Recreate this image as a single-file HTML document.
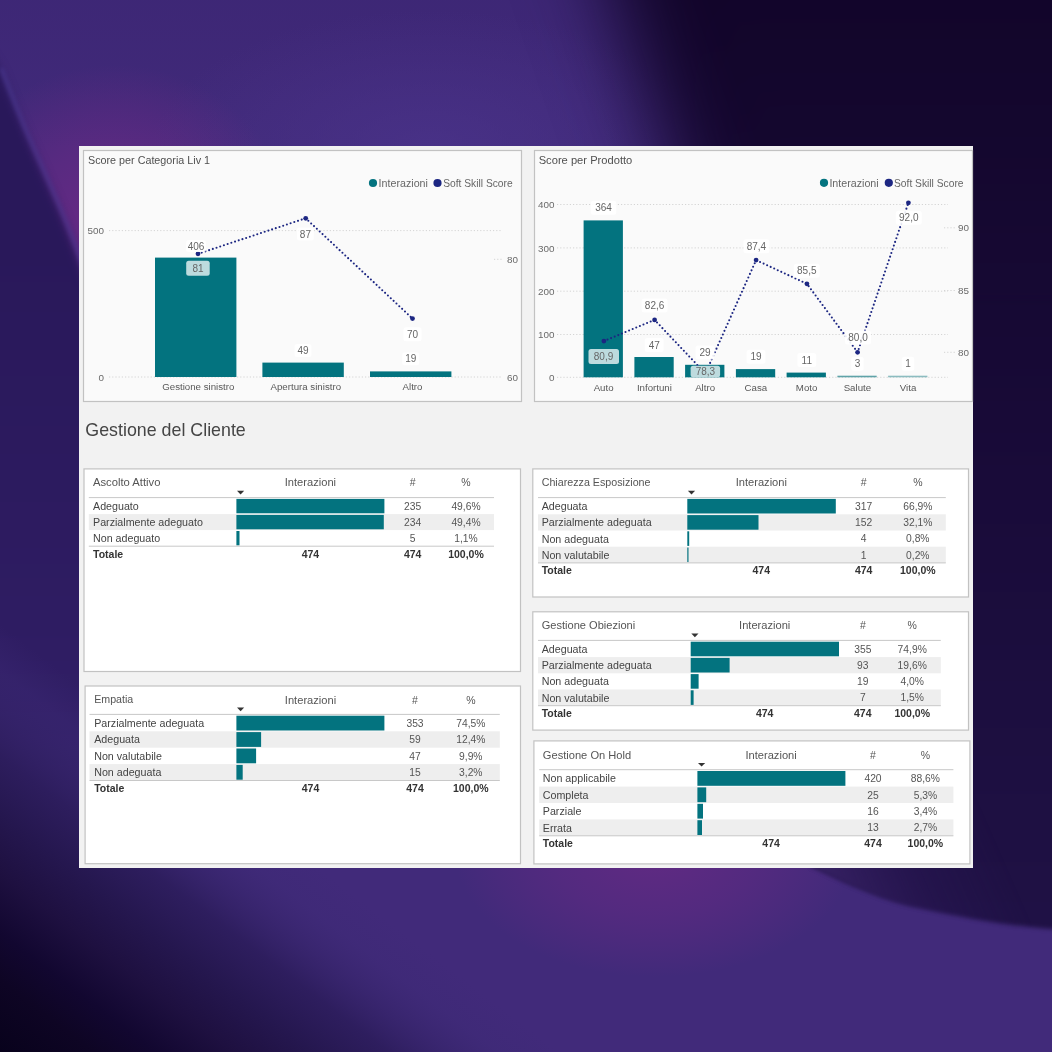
<!DOCTYPE html>
<html><head><meta charset="utf-8"><title>Dashboard</title>
<style>
html,body{margin:0;padding:0;}
body{width:1052px;height:1052px;overflow:hidden;position:relative;font-family:"Liberation Sans", sans-serif;}
#bg{position:absolute;left:0;top:0;width:1052px;height:1052px;overflow:hidden;}
svg{position:absolute;left:0;top:0;}
</style></head><body>
<div id="bg"><svg style="position:absolute;left:-150px;top:-150px" width="1352" height="1352" viewBox="-150 -150 1352 1352">
<defs>
<filter id="b40" color-interpolation-filters="sRGB" filterUnits="userSpaceOnUse" x="-150" y="-150" width="1352" height="1352"><feGaussianBlur stdDeviation="40"/></filter>
<filter id="b30" color-interpolation-filters="sRGB" filterUnits="userSpaceOnUse" x="-150" y="-150" width="1352" height="1352"><feGaussianBlur stdDeviation="30"/></filter>
<filter id="b15" color-interpolation-filters="sRGB" filterUnits="userSpaceOnUse" x="-150" y="-150" width="1352" height="1352"><feGaussianBlur stdDeviation="15"/></filter>
<filter id="b8" color-interpolation-filters="sRGB" filterUnits="userSpaceOnUse" x="-150" y="-150" width="1352" height="1352"><feGaussianBlur stdDeviation="8"/></filter>
<filter id="b2" color-interpolation-filters="sRGB" filterUnits="userSpaceOnUse" x="-150" y="-150" width="1352" height="1352"><feGaussianBlur stdDeviation="2"/></filter>
<filter id="b5" color-interpolation-filters="sRGB" filterUnits="userSpaceOnUse" x="-150" y="-150" width="1352" height="1352"><feGaussianBlur stdDeviation="5"/></filter>
<filter id="b4" color-interpolation-filters="sRGB" filterUnits="userSpaceOnUse" x="-150" y="-150" width="1352" height="1352"><feGaussianBlur stdDeviation="4"/></filter>
<linearGradient id="dk" gradientUnits="userSpaceOnUse" x1="0" y1="0" x2="0" y2="950">
<stop offset="0" stop-color="#12052a"/><stop offset="0.5" stop-color="#190b39"/><stop offset="1" stop-color="#201246"/>
</linearGradient>
<linearGradient id="ls" gradientUnits="userSpaceOnUse" x1="0" y1="250" x2="0" y2="880">
<stop offset="0" stop-color="#29185a"/><stop offset="0.6" stop-color="#2e1c62"/><stop offset="1" stop-color="#36236c"/>
</linearGradient>
<radialGradient id="mg1" cx="0.5" cy="0.5" r="0.5"><stop offset="0" stop-color="#6e2a86" stop-opacity="0.95"/><stop offset="0.5" stop-color="#6a2a86" stop-opacity="0.6"/><stop offset="1" stop-color="#6e2a86" stop-opacity="0"/></radialGradient>
<linearGradient id="cn" gradientUnits="userSpaceOnUse" x1="0" y1="1052" x2="206.4" y2="781.7"><stop offset="0" stop-color="#08021c"/><stop offset="0.167" stop-color="#0e0524"/><stop offset="0.278" stop-color="#120730"/><stop offset="0.417" stop-color="#1e1040"/><stop offset="0.556" stop-color="#25174f"/><stop offset="0.694" stop-color="#2d1d5d" stop-opacity="0.95"/><stop offset="0.89" stop-color="#3c2975" stop-opacity="0.4"/><stop offset="1" stop-color="#3c2975" stop-opacity="0"/></linearGradient>
<linearGradient id="tl" gradientUnits="userSpaceOnUse" x1="0" y1="0" x2="0" y2="150">
<stop offset="0" stop-color="#3b2573"/><stop offset="1" stop-color="#3b2573" stop-opacity="0"/>
</linearGradient>
<linearGradient id="wv" gradientUnits="userSpaceOnUse" x1="830" y1="900" x2="990" y2="830"><stop offset="0" stop-color="#3a2468" stop-opacity="0.9"/><stop offset="0.55" stop-color="#2e1a5c" stop-opacity="0.35"/><stop offset="1" stop-color="#2a1a58" stop-opacity="0"/></linearGradient>
<radialGradient id="lt" cx="0.5" cy="0.5" r="0.5"><stop offset="0" stop-color="#4a338a" stop-opacity="0.8"/><stop offset="1" stop-color="#4a338a" stop-opacity="0"/></radialGradient>
</defs>
<rect x="-150" y="-150" width="1352" height="1352" fill="#412a7a"/>
<rect x="-150" y="-150" width="800" height="300" fill="url(#tl)" opacity="0.6"/>
<ellipse cx="430" cy="150" rx="280" ry="140" fill="url(#lt)"/>
<ellipse cx="115" cy="225" rx="175" ry="160" fill="url(#mg1)" opacity="0.95"/>
<ellipse cx="655" cy="852" rx="200" ry="125" fill="url(#mg1)" opacity="0.75"/>
<path d="M-100,30 L-10,55 L0,70 C12,100 22,125 30,143 C42,170 52,192 61,213 C68,230 74,245 79,259 C85,275 90,290 95,305 L95,880 L-100,880 Z" fill="url(#ls)" filter="url(#b5)"/>
<path d="M1,68 C13,99 23,124 31,142 C43,169 53,191 62,212 C69,229 75,244 80,258 C86,274 91,289 96,304" fill="none" stroke="#5848aa" stroke-width="3" opacity="0.55" filter="url(#b2)"/>
<path d="M527,-250 L1300,-250 L1300,800 L900,800 L716,300 Z" fill="url(#dk)" filter="url(#b40)"/>
<path d="M900,300 L1300,300 L1300,931 L1052,929 C1040,928 1025,926.5 1013,925 C980,921 940,912 909,905.6 C870,895 840,880 811,866 Z" fill="url(#dk)" filter="url(#b2)"/>
<path d="M900,300 L1300,300 L1300,931 L1052,929 C1040,928 1025,926.5 1013,925 C980,921 940,912 909,905.6 C870,895 840,880 811,866 Z" fill="url(#wv)" filter="url(#b2)"/>
<rect x="-150" y="-150" width="1352" height="1352" fill="url(#cn)"/>
</svg>
</div>
<svg width="1052" height="1052" viewBox="0 0 1052 1052" style="will-change:transform" font-family='"Liberation Sans", sans-serif'>
<rect x="79.0" y="146.0" width="894.0" height="722.0" fill="#f2f2f2"/>
<rect x="83.5" y="150.5" width="438.0" height="251.0" fill="#fafafa" stroke="#c2c2c2" stroke-width="1.2"/>
<text x="88.0" y="163.7" font-size="10.9" fill="#505050" text-anchor="start" font-weight="normal" textLength="122" lengthAdjust="spacingAndGlyphs">Score per Categoria Liv 1</text>
<circle cx="373" cy="183" r="4.1" fill="#03737f"/>
<text x="378.6" y="186.8" font-size="10.5" fill="#666" text-anchor="start" font-weight="normal" textLength="49.3" lengthAdjust="spacingAndGlyphs">Interazioni</text>
<circle cx="437.5" cy="183" r="4.1" fill="#1c2682"/>
<text x="443.2" y="186.8" font-size="10.5" fill="#666" text-anchor="start" font-weight="normal" textLength="69.5" lengthAdjust="spacingAndGlyphs">Soft Skill Score</text>
<text x="104.0" y="234.2" font-size="9.9" fill="#6a6a6a" text-anchor="end" font-weight="normal">500</text>
<line x1="109.0" y1="230.6" x2="502.0" y2="230.6" stroke="#d4d4d4" stroke-width="1" stroke-dasharray="1.2 2"/>
<text x="104.0" y="380.6" font-size="9.9" fill="#6a6a6a" text-anchor="end" font-weight="normal">0</text>
<line x1="109.0" y1="377.0" x2="502.0" y2="377.0" stroke="#d4d4d4" stroke-width="1" stroke-dasharray="1.2 2"/>
<text x="507.0" y="262.9" font-size="9.9" fill="#6a6a6a" text-anchor="start" font-weight="normal">80</text>
<text x="507.0" y="380.6" font-size="9.9" fill="#6a6a6a" text-anchor="start" font-weight="normal">60</text>
<line x1="494.0" y1="259.3" x2="503.0" y2="259.3" stroke="#d4d4d4" stroke-width="1" stroke-dasharray="1.2 2"/>
<rect x="155.0" y="257.6" width="81.4" height="119.4" fill="#03737f"/>
<rect x="262.4" y="362.6" width="81.4" height="14.4" fill="#03737f"/>
<rect x="370.0" y="371.4" width="81.4" height="5.6" fill="#03737f"/>
<polyline points="198,253.8 305.7,218.3 412.5,318.6" fill="none" stroke="#1c2682" stroke-width="2.1" stroke-dasharray="0 3.9" stroke-linecap="round"/>
<circle cx="198" cy="253.8" r="2.4" fill="#1c2682"/>
<circle cx="305.7" cy="218.3" r="2.4" fill="#1c2682"/>
<circle cx="412.5" cy="318.6" r="2.4" fill="#1c2682"/>
<rect x="186.0" y="240.0" width="20.0" height="12.0" rx="2.5" fill="rgba(255,255,255,0.85)"/>
<text x="196.0" y="249.6" font-size="10" fill="#666" text-anchor="middle" font-weight="normal">406</text>
<rect x="186.2" y="260.8" width="23.5" height="15.0" rx="2.5" fill="#bddbde"/>
<text x="198.0" y="271.9" font-size="10" fill="#666" text-anchor="middle" font-weight="normal">81</text>
<rect x="296.9" y="227.5" width="17.0" height="13.0" rx="2.5" fill="rgba(255,255,255,0.85)"/>
<text x="305.4" y="237.6" font-size="10" fill="#666" text-anchor="middle" font-weight="normal">87</text>
<rect x="403.5" y="327.2" width="18.0" height="14.0" rx="2.5" fill="#ffffff"/>
<text x="412.5" y="337.8" font-size="10" fill="#666" text-anchor="middle" font-weight="normal">70</text>
<rect x="294.5" y="344.0" width="17.0" height="13.0" rx="2.5" fill="rgba(255,255,255,0.85)"/>
<text x="303.0" y="354.1" font-size="10" fill="#666" text-anchor="middle" font-weight="normal">49</text>
<rect x="402.2" y="352.2" width="17.0" height="13.0" rx="2.5" fill="rgba(255,255,255,0.85)"/>
<text x="410.7" y="362.3" font-size="10" fill="#666" text-anchor="middle" font-weight="normal">19</text>
<text x="198.3" y="390.2" font-size="9.7" fill="#585858" text-anchor="middle" font-weight="normal">Gestione sinistro</text>
<text x="305.8" y="390.2" font-size="9.7" fill="#585858" text-anchor="middle" font-weight="normal">Apertura sinistro</text>
<text x="412.5" y="390.2" font-size="9.7" fill="#585858" text-anchor="middle" font-weight="normal">Altro</text>
<rect x="534.5" y="150.5" width="438.0" height="251.0" fill="#fafafa" stroke="#c2c2c2" stroke-width="1.2"/>
<text x="538.7" y="163.7" font-size="10.9" fill="#505050" text-anchor="start" font-weight="normal" textLength="93.6" lengthAdjust="spacingAndGlyphs">Score per Prodotto</text>
<circle cx="824" cy="182.8" r="4.1" fill="#03737f"/>
<text x="829.4" y="186.6" font-size="10.5" fill="#666" text-anchor="start" font-weight="normal" textLength="49.3" lengthAdjust="spacingAndGlyphs">Interazioni</text>
<circle cx="888.8" cy="182.8" r="4.1" fill="#1c2682"/>
<text x="894.0" y="186.6" font-size="10.5" fill="#666" text-anchor="start" font-weight="normal" textLength="69.5" lengthAdjust="spacingAndGlyphs">Soft Skill Score</text>
<text x="554.5" y="208.1" font-size="9.9" fill="#6a6a6a" text-anchor="end" font-weight="normal">400</text>
<line x1="557.0" y1="204.5" x2="948.0" y2="204.5" stroke="#d4d4d4" stroke-width="1" stroke-dasharray="1.2 2"/>
<text x="554.5" y="251.5" font-size="9.9" fill="#6a6a6a" text-anchor="end" font-weight="normal">300</text>
<line x1="557.0" y1="247.9" x2="948.0" y2="247.9" stroke="#d4d4d4" stroke-width="1" stroke-dasharray="1.2 2"/>
<text x="554.5" y="294.8" font-size="9.9" fill="#6a6a6a" text-anchor="end" font-weight="normal">200</text>
<line x1="557.0" y1="291.2" x2="948.0" y2="291.2" stroke="#d4d4d4" stroke-width="1" stroke-dasharray="1.2 2"/>
<text x="554.5" y="338.1" font-size="9.9" fill="#6a6a6a" text-anchor="end" font-weight="normal">100</text>
<line x1="557.0" y1="334.5" x2="948.0" y2="334.5" stroke="#d4d4d4" stroke-width="1" stroke-dasharray="1.2 2"/>
<text x="554.5" y="380.9" font-size="9.9" fill="#6a6a6a" text-anchor="end" font-weight="normal">0</text>
<line x1="557.0" y1="377.3" x2="948.0" y2="377.3" stroke="#d4d4d4" stroke-width="1" stroke-dasharray="1.2 2"/>
<text x="957.9" y="231.4" font-size="9.9" fill="#6a6a6a" text-anchor="start" font-weight="normal">90</text>
<line x1="944.0" y1="227.8" x2="955.0" y2="227.8" stroke="#d4d4d4" stroke-width="1" stroke-dasharray="1.2 2"/>
<text x="957.9" y="294.1" font-size="9.9" fill="#6a6a6a" text-anchor="start" font-weight="normal">85</text>
<line x1="944.0" y1="290.5" x2="955.0" y2="290.5" stroke="#d4d4d4" stroke-width="1" stroke-dasharray="1.2 2"/>
<text x="957.9" y="355.9" font-size="9.9" fill="#6a6a6a" text-anchor="start" font-weight="normal">80</text>
<line x1="944.0" y1="352.3" x2="955.0" y2="352.3" stroke="#d4d4d4" stroke-width="1" stroke-dasharray="1.2 2"/>
<rect x="583.6" y="220.4" width="39.3" height="156.9" fill="#03737f"/>
<rect x="634.4" y="357.0" width="39.3" height="20.3" fill="#03737f"/>
<rect x="685.1" y="364.8" width="39.3" height="12.5" fill="#03737f"/>
<rect x="735.9" y="369.1" width="39.3" height="8.2" fill="#03737f"/>
<rect x="786.6" y="372.6" width="39.3" height="4.7" fill="#03737f"/>
<rect x="837.4" y="375.7" width="39.3" height="1.6" fill="#5fa3a8"/>
<rect x="888.1" y="375.7" width="39.3" height="1.6" fill="#8cbcc0"/>
<polyline points="603.9,341.1 654.6,319.9 705.4,373.5 756.1,260.1 806.9,283.8 857.6,352.3 908.4,202.8" fill="none" stroke="#1c2682" stroke-width="2.1" stroke-dasharray="0 3.9" stroke-linecap="round"/>
<circle cx="603.9" cy="341.1" r="2.4" fill="#1c2682"/>
<circle cx="654.6" cy="319.9" r="2.4" fill="#1c2682"/>
<circle cx="705.4" cy="373.5" r="2.4" fill="#1c2682"/>
<circle cx="756.1" cy="260.1" r="2.4" fill="#1c2682"/>
<circle cx="806.9" cy="283.8" r="2.4" fill="#1c2682"/>
<circle cx="857.6" cy="352.3" r="2.4" fill="#1c2682"/>
<circle cx="908.4" cy="202.8" r="2.4" fill="#1c2682"/>
<rect x="590.8" y="200.7" width="25.5" height="14.0" rx="2.5" fill="rgba(255,255,255,0.9)"/>
<text x="603.5" y="211.3" font-size="10" fill="#666" text-anchor="middle" font-weight="normal">364</text>
<rect x="644.7" y="338.0" width="19.0" height="14.0" rx="2.5" fill="rgba(255,255,255,0.9)"/>
<text x="654.2" y="348.6" font-size="10" fill="#666" text-anchor="middle" font-weight="normal">47</text>
<rect x="695.5" y="345.6" width="19.0" height="14.0" rx="2.5" fill="rgba(255,255,255,0.9)"/>
<text x="705.0" y="356.2" font-size="10" fill="#666" text-anchor="middle" font-weight="normal">29</text>
<rect x="746.5" y="349.7" width="19.0" height="14.0" rx="2.5" fill="rgba(255,255,255,0.9)"/>
<text x="756.0" y="360.3" font-size="10" fill="#666" text-anchor="middle" font-weight="normal">19</text>
<rect x="797.3" y="353.0" width="19.0" height="14.0" rx="2.5" fill="rgba(255,255,255,0.9)"/>
<text x="806.8" y="363.6" font-size="10" fill="#666" text-anchor="middle" font-weight="normal">11</text>
<rect x="851.2" y="356.7" width="12.5" height="14.0" rx="2.5" fill="rgba(255,255,255,0.9)"/>
<text x="857.5" y="367.3" font-size="10" fill="#666" text-anchor="middle" font-weight="normal">3</text>
<rect x="901.8" y="356.7" width="12.5" height="14.0" rx="2.5" fill="rgba(255,255,255,0.9)"/>
<text x="908.0" y="367.3" font-size="10" fill="#666" text-anchor="middle" font-weight="normal">1</text>
<rect x="641.6" y="298.6" width="26.0" height="14.0" rx="2.5" fill="rgba(255,255,255,0.9)"/>
<text x="654.6" y="309.2" font-size="10" fill="#666" text-anchor="middle" font-weight="normal">82,6</text>
<rect x="743.4" y="239.2" width="26.0" height="14.0" rx="2.5" fill="rgba(255,255,255,0.9)"/>
<text x="756.4" y="249.8" font-size="10" fill="#666" text-anchor="middle" font-weight="normal">87,4</text>
<rect x="793.8" y="263.7" width="26.0" height="14.0" rx="2.5" fill="rgba(255,255,255,0.9)"/>
<text x="806.8" y="274.3" font-size="10" fill="#666" text-anchor="middle" font-weight="normal">85,5</text>
<rect x="845.0" y="330.5" width="26.0" height="14.0" rx="2.5" fill="rgba(255,255,255,0.9)"/>
<text x="858.0" y="341.1" font-size="10" fill="#666" text-anchor="middle" font-weight="normal">80,0</text>
<rect x="895.8" y="210.7" width="26.0" height="14.0" rx="2.5" fill="rgba(255,255,255,0.9)"/>
<text x="908.8" y="221.3" font-size="10" fill="#666" text-anchor="middle" font-weight="normal">92,0</text>
<rect x="588.5" y="348.9" width="30.5" height="15.0" rx="2.5" fill="#bddbde"/>
<text x="603.5" y="360.4" font-size="10" fill="#666" text-anchor="middle" font-weight="normal">80,9</text>
<rect x="690.6" y="365.7" width="29.5" height="11.6" rx="2.5" fill="#bddbde"/>
<text x="705.4" y="375.1" font-size="10" fill="#666" text-anchor="middle" font-weight="normal">78,3</text>
<text x="603.6" y="390.5" font-size="9.7" fill="#585858" text-anchor="middle" font-weight="normal">Auto</text>
<text x="654.4" y="390.5" font-size="9.7" fill="#585858" text-anchor="middle" font-weight="normal">Infortuni</text>
<text x="705.1" y="390.5" font-size="9.7" fill="#585858" text-anchor="middle" font-weight="normal">Altro</text>
<text x="755.9" y="390.5" font-size="9.7" fill="#585858" text-anchor="middle" font-weight="normal">Casa</text>
<text x="806.6" y="390.5" font-size="9.7" fill="#585858" text-anchor="middle" font-weight="normal">Moto</text>
<text x="857.4" y="390.5" font-size="9.7" fill="#585858" text-anchor="middle" font-weight="normal">Salute</text>
<text x="908.1" y="390.5" font-size="9.7" fill="#585858" text-anchor="middle" font-weight="normal">Vita</text>
<text x="85.3" y="435.6" font-size="17.8" fill="#454545" text-anchor="start" font-weight="normal" textLength="160.5" lengthAdjust="spacingAndGlyphs">Gestione del Cliente</text>
<rect x="84.0" y="468.9" width="436.5" height="202.6" fill="#ffffff" stroke="#c2c2c2" stroke-width="1.2"/>
<text x="93.0" y="486.0" font-size="11" fill="#555" text-anchor="start" font-weight="normal" textLength="67.5" lengthAdjust="spacingAndGlyphs">Ascolto Attivo</text>
<text x="310.4" y="486.3" font-size="10.7" fill="#555" text-anchor="middle" font-weight="normal" textLength="51.3" lengthAdjust="spacingAndGlyphs">Interazioni</text>
<text x="412.7" y="486.2" font-size="10.5" fill="#555" text-anchor="middle" font-weight="normal">#</text>
<text x="466.0" y="486.2" font-size="10.5" fill="#555" text-anchor="middle" font-weight="normal">%</text>
<path d="M237.0,490.8 L244.2,490.8 L240.6,494.5 Z" fill="#333"/>
<line x1="88.8" y1="497.6" x2="494.0" y2="497.6" stroke="#c8c8c8" stroke-width="1"/>
<rect x="236.4" y="498.9" width="148.0" height="14.4" fill="#03737f"/>
<text x="93.0" y="510.0" font-size="10.7" fill="#444" text-anchor="start" font-weight="normal">Adeguato</text>
<text x="412.7" y="509.8" font-size="10.3" fill="#555" text-anchor="middle" font-weight="normal">235</text>
<text x="466.0" y="509.8" font-size="10.3" fill="#555" text-anchor="middle" font-weight="normal">49,6%</text>
<rect x="88.8" y="514.1" width="405.2" height="16.0" fill="#eeeeee"/>
<rect x="236.4" y="514.9" width="147.4" height="14.4" fill="#03737f"/>
<text x="93.0" y="526.0" font-size="10.7" fill="#444" text-anchor="start" font-weight="normal">Parzialmente adeguato</text>
<text x="412.7" y="525.9" font-size="10.3" fill="#555" text-anchor="middle" font-weight="normal">234</text>
<text x="466.0" y="525.9" font-size="10.3" fill="#555" text-anchor="middle" font-weight="normal">49,4%</text>
<rect x="236.4" y="531.0" width="3.1" height="14.4" fill="#03737f"/>
<text x="93.0" y="542.0" font-size="10.7" fill="#444" text-anchor="start" font-weight="normal">Non adeguato</text>
<text x="412.7" y="541.9" font-size="10.3" fill="#555" text-anchor="middle" font-weight="normal">5</text>
<text x="466.0" y="541.9" font-size="10.3" fill="#555" text-anchor="middle" font-weight="normal">1,1%</text>
<line x1="88.8" y1="546.2" x2="494.0" y2="546.2" stroke="#c8c8c8" stroke-width="1"/>
<text x="93.0" y="558.3" font-size="10.5" fill="#333" text-anchor="start" font-weight="bold">Totale</text>
<text x="310.4" y="558.3" font-size="10.5" fill="#333" text-anchor="middle" font-weight="bold">474</text>
<text x="412.7" y="558.3" font-size="10.5" fill="#333" text-anchor="middle" font-weight="bold">474</text>
<text x="466.0" y="558.3" font-size="10.5" fill="#333" text-anchor="middle" font-weight="bold">100,0%</text>
<rect x="85.1" y="686.0" width="435.4" height="177.7" fill="#ffffff" stroke="#c2c2c2" stroke-width="1.2"/>
<text x="94.2" y="703.4" font-size="11" fill="#555" text-anchor="start" font-weight="normal" textLength="39.1" lengthAdjust="spacingAndGlyphs">Empatia</text>
<text x="310.5" y="703.7" font-size="10.7" fill="#555" text-anchor="middle" font-weight="normal" textLength="51.3" lengthAdjust="spacingAndGlyphs">Interazioni</text>
<text x="415.0" y="703.6" font-size="10.5" fill="#555" text-anchor="middle" font-weight="normal">#</text>
<text x="470.8" y="703.6" font-size="10.5" fill="#555" text-anchor="middle" font-weight="normal">%</text>
<path d="M237.0,707.6 L244.2,707.6 L240.6,711.3 Z" fill="#333"/>
<line x1="89.5" y1="714.4" x2="499.8" y2="714.4" stroke="#c8c8c8" stroke-width="1"/>
<rect x="236.4" y="715.7" width="148.0" height="14.8" fill="#03737f"/>
<text x="94.2" y="727.0" font-size="10.7" fill="#444" text-anchor="start" font-weight="normal">Parzialmente adeguata</text>
<text x="415.0" y="726.8" font-size="10.3" fill="#555" text-anchor="middle" font-weight="normal">353</text>
<text x="470.8" y="726.8" font-size="10.3" fill="#555" text-anchor="middle" font-weight="normal">74,5%</text>
<rect x="89.5" y="731.3" width="410.3" height="16.4" fill="#eeeeee"/>
<rect x="236.4" y="732.1" width="24.7" height="14.8" fill="#03737f"/>
<text x="94.2" y="743.4" font-size="10.7" fill="#444" text-anchor="start" font-weight="normal">Adeguata</text>
<text x="415.0" y="743.2" font-size="10.3" fill="#555" text-anchor="middle" font-weight="normal">59</text>
<text x="470.8" y="743.2" font-size="10.3" fill="#555" text-anchor="middle" font-weight="normal">12,4%</text>
<rect x="236.4" y="748.5" width="19.7" height="14.8" fill="#03737f"/>
<text x="94.2" y="759.8" font-size="10.7" fill="#444" text-anchor="start" font-weight="normal">Non valutabile</text>
<text x="415.0" y="759.6" font-size="10.3" fill="#555" text-anchor="middle" font-weight="normal">47</text>
<text x="470.8" y="759.6" font-size="10.3" fill="#555" text-anchor="middle" font-weight="normal">9,9%</text>
<rect x="89.5" y="764.1" width="410.3" height="16.4" fill="#eeeeee"/>
<rect x="236.4" y="764.9" width="6.3" height="14.8" fill="#03737f"/>
<text x="94.2" y="776.2" font-size="10.7" fill="#444" text-anchor="start" font-weight="normal">Non adeguata</text>
<text x="415.0" y="776.0" font-size="10.3" fill="#555" text-anchor="middle" font-weight="normal">15</text>
<text x="470.8" y="776.0" font-size="10.3" fill="#555" text-anchor="middle" font-weight="normal">3,2%</text>
<line x1="89.5" y1="780.5" x2="499.8" y2="780.5" stroke="#c8c8c8" stroke-width="1"/>
<text x="94.2" y="791.8" font-size="10.5" fill="#333" text-anchor="start" font-weight="bold">Totale</text>
<text x="310.5" y="791.8" font-size="10.5" fill="#333" text-anchor="middle" font-weight="bold">474</text>
<text x="415.0" y="791.8" font-size="10.5" fill="#333" text-anchor="middle" font-weight="bold">474</text>
<text x="470.8" y="791.8" font-size="10.5" fill="#333" text-anchor="middle" font-weight="bold">100,0%</text>
<rect x="532.8" y="468.9" width="435.7" height="128.1" fill="#ffffff" stroke="#c2c2c2" stroke-width="1.2"/>
<text x="541.7" y="486.0" font-size="11" fill="#555" text-anchor="start" font-weight="normal" textLength="108.8" lengthAdjust="spacingAndGlyphs">Chiarezza Esposizione</text>
<text x="761.3" y="486.3" font-size="10.7" fill="#555" text-anchor="middle" font-weight="normal" textLength="51.3" lengthAdjust="spacingAndGlyphs">Interazioni</text>
<text x="863.7" y="486.2" font-size="10.5" fill="#555" text-anchor="middle" font-weight="normal">#</text>
<text x="917.8" y="486.2" font-size="10.5" fill="#555" text-anchor="middle" font-weight="normal">%</text>
<path d="M687.9,490.8 L695.1,490.8 L691.5,494.5 Z" fill="#333"/>
<line x1="538.0" y1="497.6" x2="945.8" y2="497.6" stroke="#c8c8c8" stroke-width="1"/>
<rect x="687.3" y="498.9" width="148.5" height="14.6" fill="#03737f"/>
<text x="541.7" y="510.1" font-size="10.7" fill="#444" text-anchor="start" font-weight="normal">Adeguata</text>
<text x="863.7" y="509.9" font-size="10.3" fill="#555" text-anchor="middle" font-weight="normal">317</text>
<text x="917.8" y="509.9" font-size="10.3" fill="#555" text-anchor="middle" font-weight="normal">66,9%</text>
<rect x="538.0" y="514.3" width="407.8" height="16.2" fill="#eeeeee"/>
<rect x="687.3" y="515.1" width="71.2" height="14.6" fill="#03737f"/>
<text x="541.7" y="526.3" font-size="10.7" fill="#444" text-anchor="start" font-weight="normal">Parzialmente adeguata</text>
<text x="863.7" y="526.1" font-size="10.3" fill="#555" text-anchor="middle" font-weight="normal">152</text>
<text x="917.8" y="526.1" font-size="10.3" fill="#555" text-anchor="middle" font-weight="normal">32,1%</text>
<rect x="687.3" y="531.3" width="1.9" height="14.6" fill="#03737f"/>
<text x="541.7" y="542.5" font-size="10.7" fill="#444" text-anchor="start" font-weight="normal">Non adeguata</text>
<text x="863.7" y="542.3" font-size="10.3" fill="#555" text-anchor="middle" font-weight="normal">4</text>
<text x="917.8" y="542.3" font-size="10.3" fill="#555" text-anchor="middle" font-weight="normal">0,8%</text>
<rect x="538.0" y="546.7" width="407.8" height="16.2" fill="#eeeeee"/>
<rect x="687.3" y="547.5" width="1.2" height="14.6" fill="#03737f"/>
<text x="541.7" y="558.7" font-size="10.7" fill="#444" text-anchor="start" font-weight="normal">Non valutabile</text>
<text x="863.7" y="558.5" font-size="10.3" fill="#555" text-anchor="middle" font-weight="normal">1</text>
<text x="917.8" y="558.5" font-size="10.3" fill="#555" text-anchor="middle" font-weight="normal">0,2%</text>
<line x1="538.0" y1="562.9" x2="945.8" y2="562.9" stroke="#c8c8c8" stroke-width="1"/>
<text x="541.7" y="574.2" font-size="10.5" fill="#333" text-anchor="start" font-weight="bold">Totale</text>
<text x="761.3" y="574.2" font-size="10.5" fill="#333" text-anchor="middle" font-weight="bold">474</text>
<text x="863.7" y="574.2" font-size="10.5" fill="#333" text-anchor="middle" font-weight="bold">474</text>
<text x="917.8" y="574.2" font-size="10.5" fill="#333" text-anchor="middle" font-weight="bold">100,0%</text>
<rect x="532.8" y="611.8" width="435.7" height="118.3" fill="#ffffff" stroke="#c2c2c2" stroke-width="1.2"/>
<text x="541.7" y="628.9" font-size="11" fill="#555" text-anchor="start" font-weight="normal" textLength="93.5" lengthAdjust="spacingAndGlyphs">Gestione Obiezioni</text>
<text x="764.7" y="629.2" font-size="10.7" fill="#555" text-anchor="middle" font-weight="normal" textLength="51.3" lengthAdjust="spacingAndGlyphs">Interazioni</text>
<text x="862.8" y="629.1" font-size="10.5" fill="#555" text-anchor="middle" font-weight="normal">#</text>
<text x="912.2" y="629.1" font-size="10.5" fill="#555" text-anchor="middle" font-weight="normal">%</text>
<path d="M691.3,633.6 L698.5,633.6 L694.9,637.3 Z" fill="#333"/>
<line x1="538.0" y1="640.4" x2="940.8" y2="640.4" stroke="#c8c8c8" stroke-width="1"/>
<rect x="690.7" y="641.7" width="148.3" height="14.6" fill="#03737f"/>
<text x="541.7" y="652.9" font-size="10.7" fill="#444" text-anchor="start" font-weight="normal">Adeguata</text>
<text x="862.8" y="652.7" font-size="10.3" fill="#555" text-anchor="middle" font-weight="normal">355</text>
<text x="912.2" y="652.7" font-size="10.3" fill="#555" text-anchor="middle" font-weight="normal">74,9%</text>
<rect x="538.0" y="657.1" width="402.8" height="16.2" fill="#eeeeee"/>
<rect x="690.7" y="657.9" width="38.9" height="14.6" fill="#03737f"/>
<text x="541.7" y="669.1" font-size="10.7" fill="#444" text-anchor="start" font-weight="normal">Parzialmente adeguata</text>
<text x="862.8" y="668.9" font-size="10.3" fill="#555" text-anchor="middle" font-weight="normal">93</text>
<text x="912.2" y="668.9" font-size="10.3" fill="#555" text-anchor="middle" font-weight="normal">19,6%</text>
<rect x="690.7" y="674.1" width="7.9" height="14.6" fill="#03737f"/>
<text x="541.7" y="685.3" font-size="10.7" fill="#444" text-anchor="start" font-weight="normal">Non adeguata</text>
<text x="862.8" y="685.1" font-size="10.3" fill="#555" text-anchor="middle" font-weight="normal">19</text>
<text x="912.2" y="685.1" font-size="10.3" fill="#555" text-anchor="middle" font-weight="normal">4,0%</text>
<rect x="538.0" y="689.5" width="402.8" height="16.2" fill="#eeeeee"/>
<rect x="690.7" y="690.3" width="2.9" height="14.6" fill="#03737f"/>
<text x="541.7" y="701.5" font-size="10.7" fill="#444" text-anchor="start" font-weight="normal">Non valutabile</text>
<text x="862.8" y="701.3" font-size="10.3" fill="#555" text-anchor="middle" font-weight="normal">7</text>
<text x="912.2" y="701.3" font-size="10.3" fill="#555" text-anchor="middle" font-weight="normal">1,5%</text>
<line x1="538.0" y1="705.7" x2="940.8" y2="705.7" stroke="#c8c8c8" stroke-width="1"/>
<text x="541.7" y="717.4" font-size="10.5" fill="#333" text-anchor="start" font-weight="bold">Totale</text>
<text x="764.7" y="717.4" font-size="10.5" fill="#333" text-anchor="middle" font-weight="bold">474</text>
<text x="862.8" y="717.4" font-size="10.5" fill="#333" text-anchor="middle" font-weight="bold">474</text>
<text x="912.2" y="717.4" font-size="10.5" fill="#333" text-anchor="middle" font-weight="bold">100,0%</text>
<rect x="533.9" y="740.9" width="436.0" height="123.0" fill="#ffffff" stroke="#c2c2c2" stroke-width="1.2"/>
<text x="542.8" y="758.7" font-size="11" fill="#555" text-anchor="start" font-weight="normal" textLength="88.4" lengthAdjust="spacingAndGlyphs">Gestione On Hold</text>
<text x="771.1" y="759.0" font-size="10.7" fill="#555" text-anchor="middle" font-weight="normal" textLength="51.3" lengthAdjust="spacingAndGlyphs">Interazioni</text>
<text x="873.0" y="758.9" font-size="10.5" fill="#555" text-anchor="middle" font-weight="normal">#</text>
<text x="925.4" y="758.9" font-size="10.5" fill="#555" text-anchor="middle" font-weight="normal">%</text>
<path d="M698.0,762.9 L705.2,762.9 L701.6,766.6 Z" fill="#333"/>
<line x1="539.2" y1="769.7" x2="953.4" y2="769.7" stroke="#c8c8c8" stroke-width="1"/>
<rect x="697.4" y="771.0" width="148.0" height="14.8" fill="#03737f"/>
<text x="542.8" y="782.3" font-size="10.7" fill="#444" text-anchor="start" font-weight="normal">Non applicabile</text>
<text x="873.0" y="782.1" font-size="10.3" fill="#555" text-anchor="middle" font-weight="normal">420</text>
<text x="925.4" y="782.1" font-size="10.3" fill="#555" text-anchor="middle" font-weight="normal">88,6%</text>
<rect x="539.2" y="786.6" width="414.2" height="16.4" fill="#eeeeee"/>
<rect x="697.4" y="787.4" width="8.8" height="14.8" fill="#03737f"/>
<text x="542.8" y="798.7" font-size="10.7" fill="#444" text-anchor="start" font-weight="normal">Completa</text>
<text x="873.0" y="798.5" font-size="10.3" fill="#555" text-anchor="middle" font-weight="normal">25</text>
<text x="925.4" y="798.5" font-size="10.3" fill="#555" text-anchor="middle" font-weight="normal">5,3%</text>
<rect x="697.4" y="803.8" width="5.6" height="14.8" fill="#03737f"/>
<text x="542.8" y="815.1" font-size="10.7" fill="#444" text-anchor="start" font-weight="normal">Parziale</text>
<text x="873.0" y="814.9" font-size="10.3" fill="#555" text-anchor="middle" font-weight="normal">16</text>
<text x="925.4" y="814.9" font-size="10.3" fill="#555" text-anchor="middle" font-weight="normal">3,4%</text>
<rect x="539.2" y="819.4" width="414.2" height="16.4" fill="#eeeeee"/>
<rect x="697.4" y="820.2" width="4.6" height="14.8" fill="#03737f"/>
<text x="542.8" y="831.5" font-size="10.7" fill="#444" text-anchor="start" font-weight="normal">Errata</text>
<text x="873.0" y="831.3" font-size="10.3" fill="#555" text-anchor="middle" font-weight="normal">13</text>
<text x="925.4" y="831.3" font-size="10.3" fill="#555" text-anchor="middle" font-weight="normal">2,7%</text>
<line x1="539.2" y1="835.8" x2="953.4" y2="835.8" stroke="#c8c8c8" stroke-width="1"/>
<text x="542.8" y="847.1" font-size="10.5" fill="#333" text-anchor="start" font-weight="bold">Totale</text>
<text x="771.1" y="847.1" font-size="10.5" fill="#333" text-anchor="middle" font-weight="bold">474</text>
<text x="873.0" y="847.1" font-size="10.5" fill="#333" text-anchor="middle" font-weight="bold">474</text>
<text x="925.4" y="847.1" font-size="10.5" fill="#333" text-anchor="middle" font-weight="bold">100,0%</text>
</svg>
</body></html>
